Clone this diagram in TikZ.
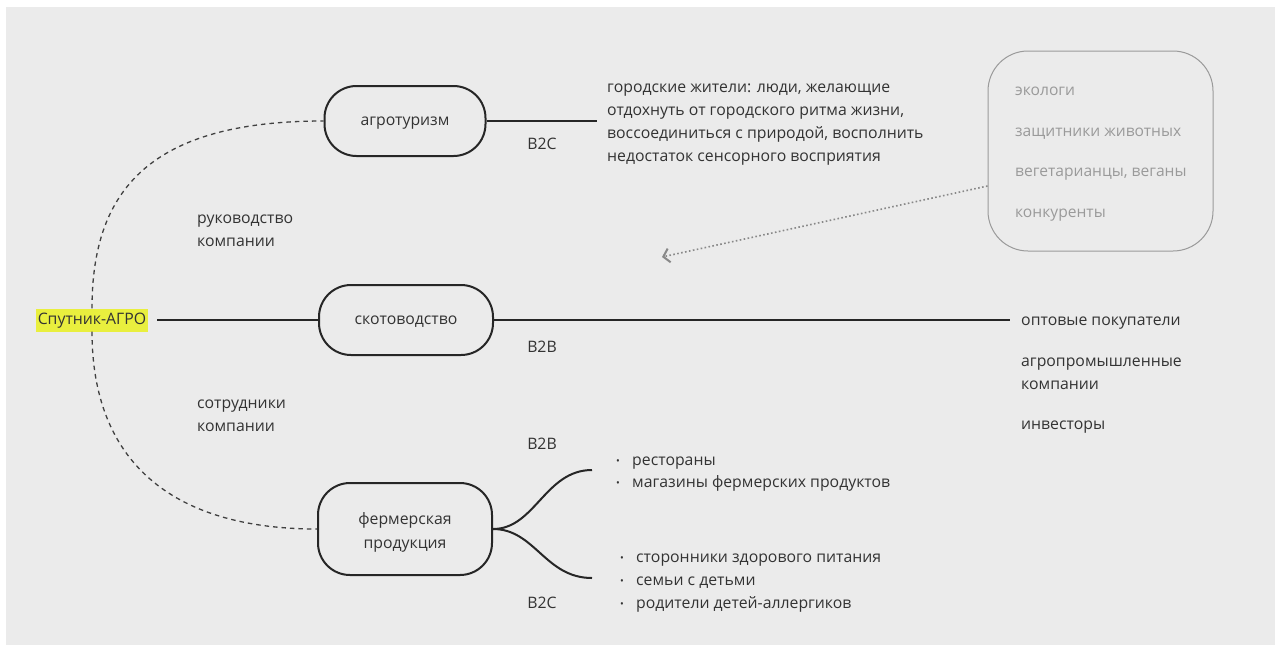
\documentclass[tikz,border=0pt]{standalone}
\usepackage{fontspec}
\setmainfont{Open Sans}
\usetikzlibrary{arrows.meta, positioning}
\definecolor{bgcol}{HTML}{EBEBEB}
\definecolor{txtcol}{HTML}{333333}
\definecolor{hilite}{HTML}{E9EF3E}
\definecolor{boxgray}{HTML}{9A9A9A}
\definecolor{arrowgray}{HTML}{888888}
\newcommand{\dotitem}{\makebox[16pt][l]{\raisebox{1pt}{\fontsize{10}{10}\selectfont\textbullet}}}

\begin{document}
\begin{tikzpicture}[x=1pt, y=-1pt,
    every node/.style={text=txtcol, font=\fontsize{15.8}{23}\selectfont},
    oneline/.style={text height=12pt, text depth=3.6pt},
    branch/.style={draw=black!85, line width=2pt, rounded corners=32pt, minimum width=174pt, minimum height=70pt, align=center},
    lbl/.style={anchor=west, align=left, inner sep=0pt, yshift=-3pt},
    link/.style={draw=black!85, line width=2pt},
    loose/.style={draw=black!75, line width=1.3pt, dash pattern=on 4.5pt off 4pt}]
    \useasboundingbox (0,0) rectangle (1279,646);
    \fill[white] (0,0) rectangle (1279,646);
    \fill[bgcol] (6,7) rectangle (1275,645);
    % centre and the three branches
    \node[oneline, fill=hilite, inner sep=2pt, minimum width=109pt, minimum height=23pt] (root) at (92,320) {Спутник-АГРО};
    \node[branch, oneline, minimum width=161pt] (agro) at (405,121) {агротуризм};
    \node[branch, oneline] (cattle) at (406,320) {скотоводство};
    \node[branch, minimum height=92pt, label={[name=farmtext, align=center, yshift=-3pt, font=\fontsize{15.8}{24}\selectfont]center:{фермерская\\продукция}}] (farm) at (405,529) {};
    \draw[link, shorten <=9pt] (root) -- (cattle);
    \draw[loose] (root.north) .. controls (92,190) and (150,121) .. (agro.west);
    \draw[loose] (root.south) .. controls (92,460) and (170,529) .. (farm.west);
    \node[lbl] (boss) at (197,228) {руководство\\компании};
    \node[lbl] (staff) at (197,413) {сотрудники\\компании};
    % agrotourism
    \coordinate (agroend) at (597,121);
    \draw[link] (agro) -- (agroend);
    \node (agrotype) at (542,144) {B2C};
    \node[lbl] (citizens) at (607,122) {городские жители: люди, желающие\\отдохнуть от городского ритма жизни,\\воссоединиться с природой, восполнить\\недостаток сенсорного восприятия};
    % cattle
    \coordinate (cattleend) at (1010,320);
    \draw[link] (cattle) -- (cattleend);
    \node (cattletype) at (542,347) {B2B};
    \node[lbl] (wholesale) at (1021,320) {оптовые покупатели};
    \node[lbl] (agroind) at (1021,371) {агропромышленные\\компании};
    \node[lbl] (investors) at (1021,424) {инвесторы};
    % farm products
    \coordinate (farmup) at (592,470);
    \coordinate (farmdown) at (592,578);
    \draw[link] (farm.east) .. controls (535,529) and (545,470) .. (farmup);
    \draw[link] (farm.east) .. controls (535,529) and (545,578) .. (farmdown);
    \node (farmb2b) at (542,444) {B2B};
    \node (farmb2c) at (542,603) {B2C};
    \node[lbl, font=\fontsize{15.8}{22}\selectfont] (shops) at (616,471) {\dotitem рестораны\\\dotitem магазины фермерских продуктов};
    \node[lbl] (families) at (618,580) {\makebox[2pt]{}\dotitem сторонники здорового питания\\\makebox[2pt]{}\dotitem семьи с детьми\\\makebox[2pt]{}\dotitem родители детей-аллергиков};
    % opponents
    \node[draw=boxgray, line width=1pt, rounded corners=40pt, minimum width=225pt, minimum height=200pt] (critics) at (1100.5,151) {};
    \node[lbl, text=boxgray, font=\fontsize{15.6}{40.7}\selectfont] (criticlist) at (1015,151) {экологи\\защитники животных\\вегетарианцы, веганы\\конкуренты};
    \coordinate (criticsto) at (662,257);
    \draw[arrowgray, line width=1.6pt, dash pattern=on 1.6pt off 2.4pt, -{Straight Barb[length=6pt, width=14pt, line width=2pt]}] ([shift={(0,35)}]critics.west) -- (criticsto);
\end{tikzpicture}
\end{document}
